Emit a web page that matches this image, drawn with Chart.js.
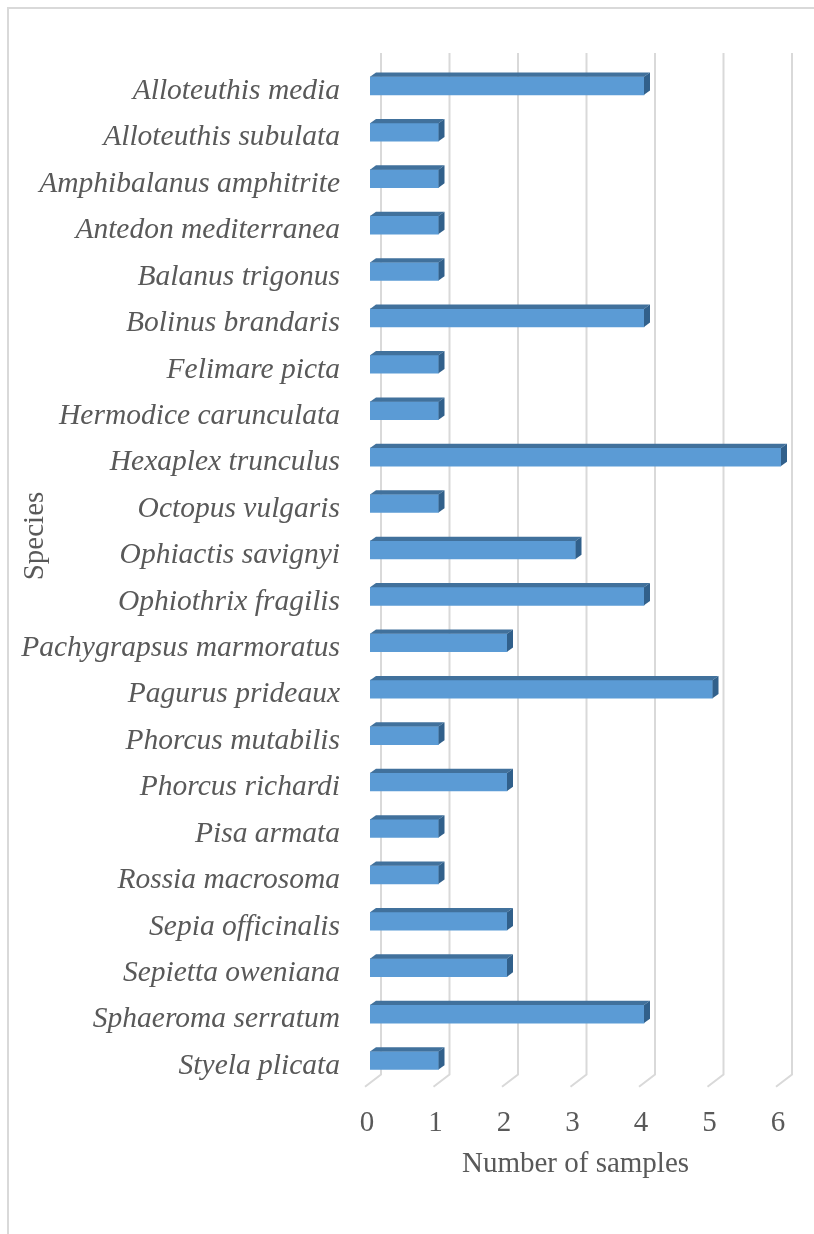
<!DOCTYPE html>
<html>
<head>
<meta charset="utf-8">
<script src="https://cdn.jsdelivr.net/npm/chart.js@4.4.1/dist/chart.umd.min.js"></script>
<style>
  html, body { margin: 0; padding: 0; background: #fff; }
  #wrap { position: relative; width: 814px; height: 1234px; overflow: hidden; }
  #frame { position: absolute; left: 7px; top: 7px; width: 900px; height: 1300px;
           border-left: 2px solid #d9d9d9; border-top: 2px solid #d9d9d9; }
  canvas { position: absolute; left: 0; top: 0; }
</style>
</head>
<body>
<div id="wrap">
  <div id="frame"></div>
  <canvas id="bar-chart" width="814" height="1234"></canvas>
</div>
<script>
// species in the order shown, top to bottom
const species = [
  'Alloteuthis media', 'Alloteuthis subulata', 'Amphibalanus amphitrite',
  'Antedon mediterranea', 'Balanus trigonus', 'Bolinus brandaris',
  'Felimare picta', 'Hermodice carunculata', 'Hexaplex trunculus',
  'Octopus vulgaris', 'Ophiactis savignyi', 'Ophiothrix fragilis',
  'Pachygrapsus marmoratus', 'Pagurus prideaux', 'Phorcus mutabilis',
  'Phorcus richardi', 'Pisa armata', 'Rossia macrosoma',
  'Sepia officinalis', 'Sepietta oweniana', 'Sphaeroma serratum',
  'Styela plicata'
];
const samples = [4, 1, 1, 1, 1, 4, 1, 1, 6, 1, 3, 4, 2, 5, 1, 2, 1, 1, 2, 2, 4, 1];
const xTicks = [0, 1, 2, 3, 4, 5, 6];

const serif = "'Liberation Serif', 'Times New Roman', serif";
const grey = '#595959';

// fake 3D: slanted gridlines behind, top + side faces on the bars
const depth = {
    id: 'depth',
    beforeDatasetsDraw(chart) {
        const ctx = chart.ctx;
        const xs = chart.scales.x;
        ctx.save();
        ctx.strokeStyle = '#d9d9d9';
        ctx.lineWidth = 2;
        xTicks.forEach(v => {
            const xf = xs.getPixelForValue(v);
            ctx.beginPath();
            ctx.moveTo(xf + 11, 53);
            ctx.lineTo(xf + 11, 1074.5);
            ctx.lineTo(xf - 5, 1086.7);
            ctx.stroke();
        });
        ctx.restore();
    },
    afterDatasetsDraw(chart) {
        const ctx = chart.ctx;
        const dx = 6, dy = 4.3;
        ctx.save();
        chart.getDatasetMeta(0).data.forEach(bar => {
            const top = bar.y - bar.height / 2;
            const bottom = bar.y + bar.height / 2;
            ctx.fillStyle = '#41719c';
            ctx.beginPath();
            ctx.moveTo(bar.base, top);
            ctx.lineTo(bar.x, top);
            ctx.lineTo(bar.x + dx, top - dy);
            ctx.lineTo(bar.base + dx, top - dy);
            ctx.closePath();
            ctx.fill();
            ctx.fillStyle = '#31608b';
            ctx.beginPath();
            ctx.moveTo(bar.x, top);
            ctx.lineTo(bar.x + dx, top - dy);
            ctx.lineTo(bar.x + dx, bottom - dy);
            ctx.lineTo(bar.x, bottom);
            ctx.closePath();
            ctx.fill();
        });
        ctx.restore();
    },
    afterDraw(chart) {
        const ctx = chart.ctx;
        ctx.save();
        ctx.translate(35, 536);
        ctx.rotate(-Math.PI / 2);
        ctx.font = '29px ' + serif;
        ctx.fillStyle = grey;
        ctx.textAlign = 'center';
        ctx.textBaseline = 'middle';
        ctx.fillText('Species', 0, 0);
        ctx.restore();
    }
};

const config = {
    type: 'bar',
    data: {
        labels: species,
        datasets: [{
            label: 'Number of samples',
            data: samples,
            backgroundColor: '#5b9bd5',
            barThickness: 18
        }]
    },
    options: {
        indexAxis: 'y',
        responsive: false,
        animation: false,
        devicePixelRatio: 1,
        layout: { padding: { top: 62.6, right: 33, bottom: 0, left: 0 } },
        plugins: { legend: { display: false }, tooltip: { enabled: false } },
        scales: {
            x: {
                min: 0,
                max: 6,
                grid: { display: false, drawTicks: false },
                border: { display: false },
                afterFit: s => { s.height = 150.3; },
                afterBuildTicks: s => { s.ticks = xTicks.map(v => ({ value: v })); },
                ticks: {
                    padding: 22.5,
                    labelOffset: -3,
                    color: grey,
                    font: { family: serif, size: 29 }
                },
                title: {
                    display: true,
                    text: 'Number of samples',
                    color: grey,
                    font: { family: serif, size: 29 },
                    padding: { top: 0, bottom: 52.5 }
                }
            },
            y: {
                grid: { display: false, drawTicks: false },
                border: { display: false },
                afterFit: s => { s.width = 370; },
                ticks: {
                    padding: 30,
                    labelOffset: 5.5,
                    color: grey,
                    font: { family: serif, size: 29.5, style: 'italic' }
                }
            }
        }
    },
    plugins: [depth]
};

new Chart(document.getElementById('bar-chart'), config);
</script>
</body>
</html>
